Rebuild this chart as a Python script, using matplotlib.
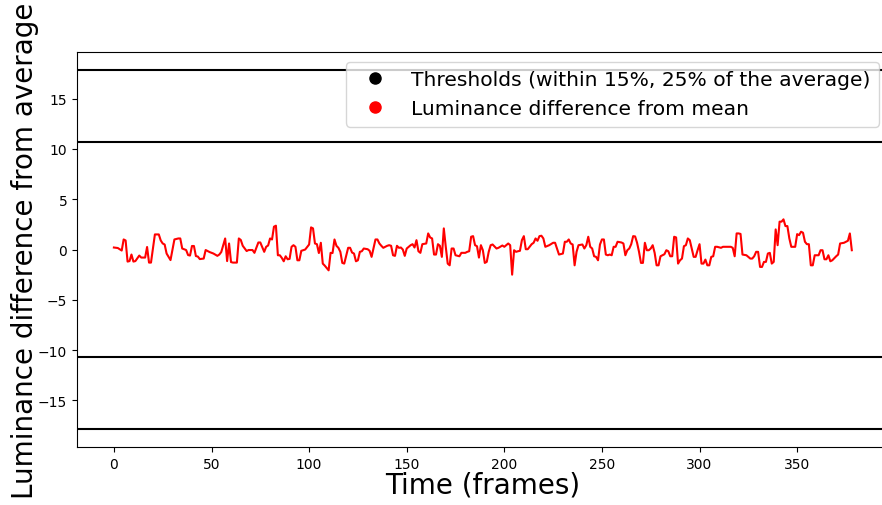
import matplotlib
matplotlib.use("Agg")
import matplotlib.pyplot as plt
from matplotlib.lines import Line2D

# luminance difference from the mean, sampled at the listed frames
frames = [0, 2, 4, 5, 6, 7, 8, 9, 10, 11, 13, 14, 16, 17, 18, 19, 21, 23, 24, 25,
          26, 27, 29, 30, 31, 33, 34, 35, 37, 38, 39, 40, 41, 42, 43, 44, 46, 47, 49, 51,
          53, 54, 55, 57, 58, 59, 60, 61, 62, 63, 64, 65, 66, 68, 69, 71, 72, 74, 75, 77,
          78, 79, 80, 81, 82, 83, 84, 85, 86, 87, 88, 89, 90, 91, 92, 93, 94, 95, 96, 97,
          98, 100, 101, 102, 103, 104, 105, 106, 107, 108, 109, 110, 111, 112, 113, 114, 115, 116, 117, 118,
          120, 121, 122, 123, 124, 125, 126, 127, 128, 130, 131, 132, 134, 135, 136, 137, 138, 140, 141, 142,
          143, 144, 145, 146, 147, 148, 149, 150, 152, 153, 154, 155, 156, 157, 158, 160, 161, 162, 163, 164,
          165, 166, 167, 168, 169, 170, 171, 172, 173, 174, 175, 177, 178, 180, 181, 182, 183, 184, 185, 186,
          187, 188, 189, 190, 191, 192, 193, 194, 196, 197, 199, 200, 202, 203, 204, 205, 206, 207, 208, 209,
          210, 211, 212, 214, 215, 216, 217, 218, 219, 220, 221, 223, 225, 226, 227, 228, 230, 231, 232, 233,
          234, 235, 236, 237, 238, 240, 241, 242, 243, 244, 245, 246, 247, 248, 249, 250, 251, 252, 253, 254,
          255, 256, 257, 258, 260, 261, 262, 263, 264, 265, 266, 267, 268, 269, 270, 271, 272, 273, 274, 275,
          276, 277, 278, 279, 280, 282, 283, 284, 285, 286, 287, 288, 289, 290, 291, 292, 293, 294, 295, 297,
          298, 299, 300, 301, 302, 303, 304, 305, 306, 307, 308, 309, 311, 312, 314, 316, 317, 318, 319, 320,
          321, 322, 324, 326, 327, 328, 329, 330, 331, 332, 333, 334, 335, 336, 337, 338, 339, 340, 341, 342,
          343, 344, 345, 346, 347, 349, 350, 351, 352, 353, 354, 355, 356, 357, 358, 359, 361, 362, 363, 364,
          365, 366, 367, 368, 370, 371, 372, 374, 375, 376, 377, 378]
lum_diff = [0.2, 0.15, -0.1, 1.0, 0.9, -1.2, -1.15, -0.5, -1.2, -1.15, -0.6, -0.8, -0.8, 0.25, -1.3, -1.3, 1.5, 1.5, 0.9, 0.6,
            0.5, -0.4, -1.05, -0.05, 1.0, 1.1, 1.1, 0.1, -0.05, -0.55, -0.6, 0.35, 0.35, -0.65, -0.7, -0.95, -0.9, -0.05, -0.25, -0.4,
            -0.63, -0.5, -0.25, 1.1, -1.15, 0.6, -1.25, -1.3, -1.3, -1.3, 1.1, 0.95, 0.37, -0.15, -0.05, -0.05, -0.33, 0.7, 0.7, -0.23,
            0.27, 0.4, 1.1, 1.0, 2.27, 2.37, -0.57, -0.57, -0.83, -1.17, -0.67, -0.97, -0.93, 0.27, 0.43, 0.27, -1.07, -1.07, -0.13, -0.07,
            0.0, 0.5, 2.2, 2.1, 0.6, 0.53, -0.35, 0.67, -1.4, -1.6, -1.83, -2.07, -0.33, -0.35, 1.0, 0.37, 0.17, -0.23, -1.33, -1.4,
            0.17, 0.17, -0.3, -0.4, -1.17, -1.07, -0.23, -0.17, 0.1, 0.03, -0.13, -0.73, 1.0, 1.0, 0.6, 0.37, 0.17, 0.37, 0.43, 0.37,
            -0.57, -0.63, 0.37, 0.17, 0.2, 0.0, -0.63, 0.1, 0.43, 0.53, 0.2, 0.93, -0.17, -0.33, 0.53, 0.6, 1.6, 1.2, 1.1, -0.5,
            -0.5, 0.53, 0.37, -0.73, 2.1, 0.27, -1.4, -1.57, 0.1, 0.1, -0.57, -0.67, -0.33, -0.33, -0.23, -0.17, 1.27, 1.33, 0.43, 0.33,
            -0.8, 0.43, -0.07, -1.33, -1.23, -0.23, 0.43, 0.5, 0.1, 0.17, 0.4, 0.27, 0.6, 0.43, -2.5, -0.07, -0.23, -0.17, -0.13, 0.93,
            1.33, 0.03, 0.03, 0.53, 0.67, 1.1, 0.87, 1.33, 1.37, 1.1, 0.27, 0.43, 0.67, 0.67, 0.1, -0.5, -0.4, 0.77, 0.77, 1.0,
            0.6, 0.5, -1.57, -0.23, 0.43, 0.5, 0.1, 0.43, 1.27, 0.27, 0.1, -0.67, -0.73, -1.07, 0.5, 1.0, 1.0, -0.5, -0.57, -0.5,
            -0.57, 0.27, 0.27, 0.77, 0.7, 0.6, -0.57, -0.07, 0.1, 0.53, 1.33, 1.3, 0.67, -0.23, -1.33, -1.33, 0.67, -0.07, -0.07, 0.1,
            0.43, -0.33, -1.57, -1.57, -0.67, -0.47, -0.07, -0.17, -0.67, -0.67, 1.27, 1.2, -1.4, -1.07, -0.9, 0.33, 0.43, 1.1, 0.93, -0.73,
            -0.73, -0.07, 0.53, -1.4, -1.4, -1.0, -1.57, -1.57, -0.73, -0.67, 0.27, 0.27, 0.17, 0.27, 0.27, 0.27, 0.17, -0.67, 1.6, 1.6,
            1.55, -0.5, -0.57, -0.9, -0.9, -0.67, -0.23, -0.23, -1.73, -1.73, -1.23, -1.23, -0.4, -0.33, -1.4, -1.23, 2.0, 0.43, 2.77, 2.77,
            3.0, 2.33, 2.33, 1.1, 0.27, 0.27, 1.53, 1.43, 1.77, 1.67, 0.77, 0.53, 0.53, -1.57, -1.57, -0.57, -0.57, -0.07, -0.07, -0.97,
            -0.97, -0.57, -1.17, -1.07, -0.67, -0.5, 0.6, 0.67, 0.77, 0.87, 1.6, -0.07]

# 15% and 25% of the average luminance
thresholds = [10.71, 17.85]

fig = plt.figure(figsize=(8.82, 5.06), dpi=100)
ax = fig.add_axes([0.0873, 0.1146, 0.9203, 0.7806])

for t in thresholds:
    ax.axhline(t, color="black", lw=1.5)
    ax.axhline(-t, color="black", lw=1.5)

ax.plot(frames, lum_diff, color="red", lw=1.5)

ax.set_xlabel("Time (frames)", fontsize=20, labelpad=0)
ax.set_ylabel("Luminance difference from average", fontsize=20, labelpad=-1)

handles = [Line2D([], [], ls="", marker="o", color="black", markersize=8),
           Line2D([], [], ls="", marker="o", color="red", markersize=8)]
ax.legend(handles, ["Thresholds (within 15%, 25% of the average)",
                    "Luminance difference from mean"],
          loc="upper right", fontsize=14.6)

fig.savefig("out.png", dpi=100)
